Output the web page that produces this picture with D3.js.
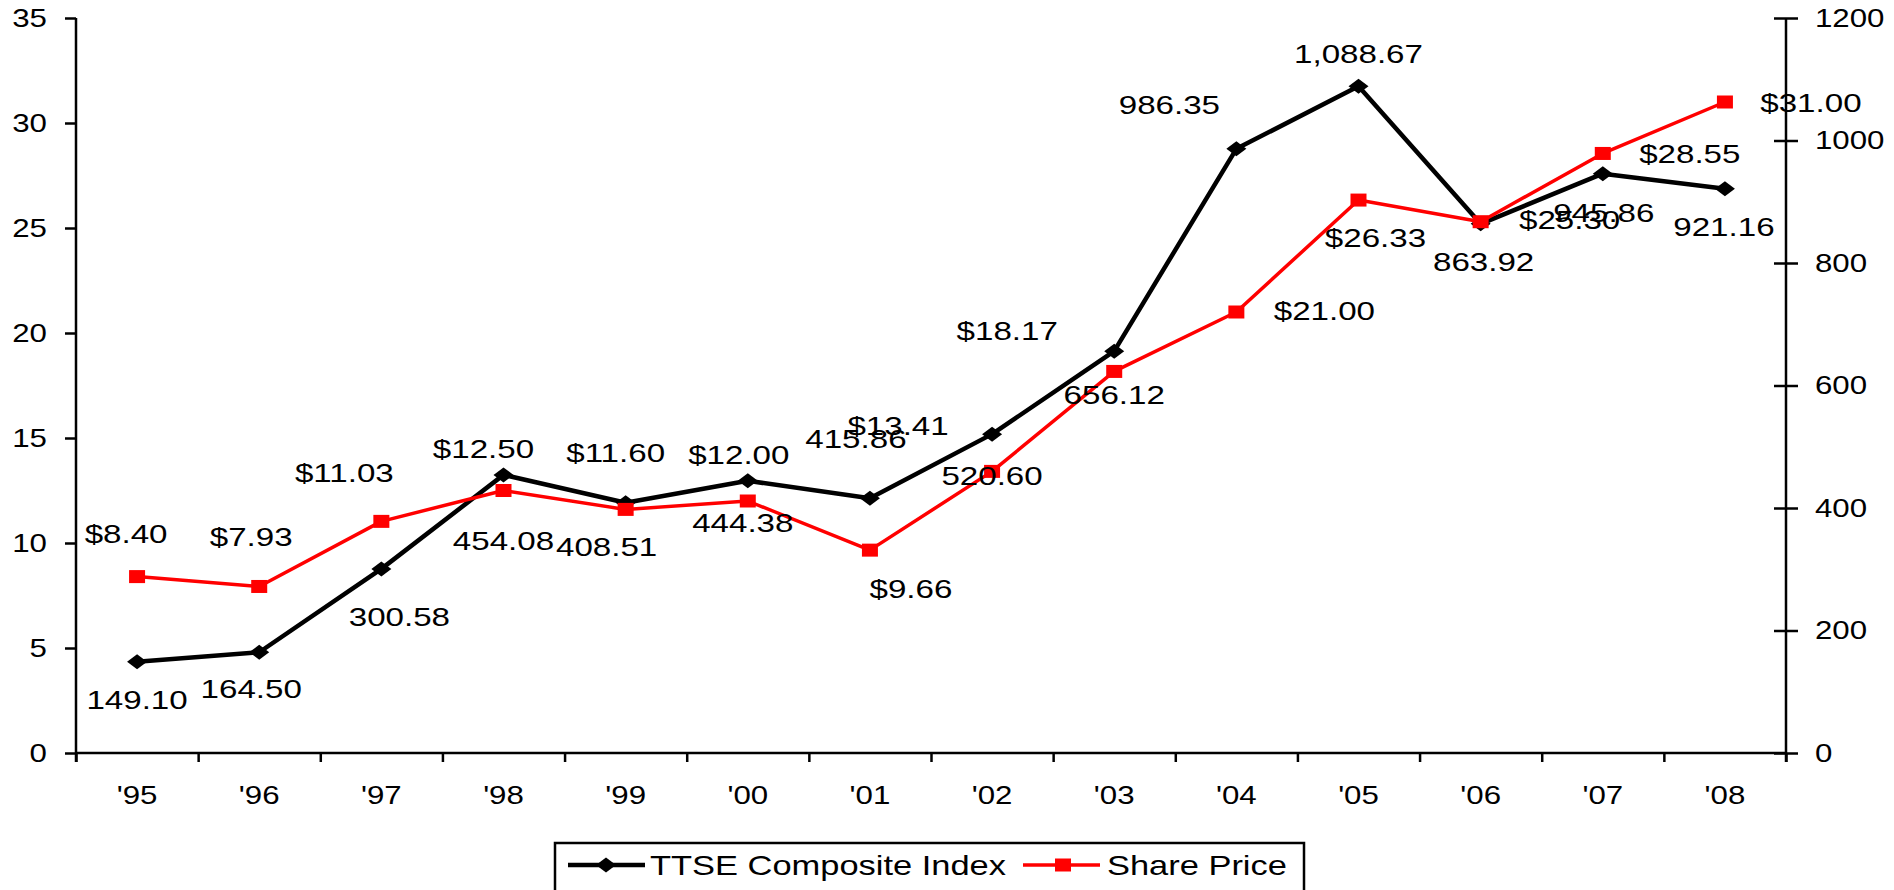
<!DOCTYPE html>
<html>
<head>
<meta charset="utf-8">
<script src="https://cdn.jsdelivr.net/npm/d3@7"></script>
<style>
html,body{margin:0;padding:0;background:#fff;}
svg{display:block;font-family:"Liberation Sans",Arial,sans-serif;}
</style>
</head>
<body>
<svg id="chart" width="1894" height="890"></svg>
<script>
const years = ["'95","'96","'97","'98","'99","'00","'01","'02","'03","'04","'05","'06","'07","'08"];
const ttseIndex = [149.10,164.50,300.58,454.08,408.51,444.38,415.86,520.60,656.12,986.35,1088.67,863.92,945.86,921.16];
const sharePrice = [8.40,7.93,11.03,12.50,11.60,12.00,9.66,13.41,18.17,21.00,26.33,25.30,28.55,31.00];
const ttseLabels = ["149.10","164.50","300.58","454.08","408.51","444.38","415.86","520.60","656.12","986.35","1,088.67","863.92","945.86","921.16"];
const priceLabels = ["$8.40","$7.93","$11.03","$12.50","$11.60","$12.00","$9.66","$13.41","$18.17","$21.00","$26.33","$25.30","$28.55","$31.00"];
const leftTicks = [0,5,10,15,20,25,30,35];
const rightTicks = [0,200,400,600,800,1000,1200];
// label offsets (px) relative to their points, as placed in the original
const ttseOff = [[0,38],[-8,36],[18,48],[0,66],[-19,44],[-5,42],[-14,-60],[0,41],[0,43],[-67,-44],[0,-33],[3,38],[1,39],[-1,38]];
const priceOff = [[-11,-43],[-8,-50],[-37,-49],[-20,-42],[-10,-57],[-9,-47],[41,38],[-94,-46],[-107,-41],[88,-2],[17,37],[89,-2],[87,0],[86,0]];

const SX = 1.25; // horizontal stretch of the original's text
const L = 76, R = 1786, T = 18, B = 753;

const svg = d3.select("#chart");

const x = d3.scaleBand().domain(years).range([L, R]).padding(0);
const xTickScale = d3.scaleLinear().domain([0, years.length]).range([L, R]);
const yL = d3.scaleLinear().domain([0, 35]).range([B, T]);
const yR = d3.scaleLinear().domain([0, 1200]).range([B, T]);
const cx = i => x(years[i]) + x.bandwidth() / 2;

function stretchText(sel, anchor) {
  sel.each(function() {
    const t = d3.select(this);
    const tx = +t.attr("x") || 0;
    const ty = +t.attr("y") || 0;
    t.attr("x", null).attr("y", null)
     .attr("text-anchor", anchor)
     .attr("transform", `translate(${tx},${ty}) scale(${SX},1)`);
  });
}

// Left axis
const gL = svg.append("g").attr("transform", `translate(${L},0)`)
  .call(d3.axisLeft(yL).tickValues(leftTicks).tickSizeInner(11).tickSizeOuter(0).tickPadding(18));
gL.select(".domain").remove();
gL.selectAll("line").attr("stroke", "#000").attr("stroke-width", 2.5);
gL.selectAll("text").attr("font-size", 25).attr("fill", "#000").attr("font-family", "Liberation Sans, Arial, sans-serif");
stretchText(gL.selectAll("text"), "end");

// Right axis
const gR = svg.append("g").attr("transform", `translate(${R},0)`)
  .call(d3.axisRight(yR).tickValues(rightTicks).tickFormat(d3.format("d")).tickSizeInner(12).tickSizeOuter(0).tickPadding(17));
gR.select(".domain").remove();
gR.selectAll("line").attr("x1", -12).attr("stroke", "#000").attr("stroke-width", 2.5);
gR.selectAll("text").attr("font-size", 25).attr("fill", "#000").attr("font-family", "Liberation Sans, Arial, sans-serif");
stretchText(gR.selectAll("text"), "start");

// X axis ticks at category boundaries
const gXT = svg.append("g").attr("transform", `translate(0,${B})`)
  .call(d3.axisBottom(xTickScale).tickValues(d3.range(0, years.length + 1)).tickFormat("").tickSizeInner(9).tickSizeOuter(0));
gXT.select(".domain").remove();
gXT.selectAll("line").attr("stroke", "#000").attr("stroke-width", 2.5);

// X axis labels
const gX = svg.append("g").attr("transform", `translate(0,${B})`)
  .call(d3.axisBottom(x).tickSize(0).tickPadding(31));
gX.select(".domain").remove();
gX.selectAll("text").attr("font-size", 25).attr("fill", "#000").attr("font-family", "Liberation Sans, Arial, sans-serif");
gX.selectAll(".tick text").each(function(){ const t=d3.select(this); t.attr("y", +t.attr("y") + 2).attr("dy", "0.71em"); });
stretchText(gX.selectAll("text"), "middle");

// Axis lines
svg.append("line").attr("x1", L).attr("x2", L).attr("y1", T).attr("y2", B + 9).attr("stroke", "#000").attr("stroke-width", 2.5);
svg.append("line").attr("x1", R).attr("x2", R).attr("y1", T).attr("y2", B + 9).attr("stroke", "#000").attr("stroke-width", 2.5);
svg.append("line").attr("x1", L).attr("x2", R).attr("y1", B).attr("y2", B).attr("stroke", "#000").attr("stroke-width", 2.5);

// Lines
const lineT = d3.line().x((d, i) => cx(i)).y(d => yR(d));
const lineP = d3.line().x((d, i) => cx(i)).y(d => yL(d));

svg.append("path").datum(ttseIndex).attr("d", lineT).attr("fill", "none").attr("stroke", "#000").attr("stroke-width", 4.5).attr("stroke-linejoin", "round");
svg.append("g").selectAll("path").data(ttseIndex).join("path")
  .attr("d", "M-10,0L0,-7.5L10,0L0,7.5Z")
  .attr("transform", (d, i) => `translate(${cx(i)},${yR(d)})`)
  .attr("fill", "#000");

svg.append("path").datum(sharePrice).attr("d", lineP).attr("fill", "none").attr("stroke", "#ff0000").attr("stroke-width", 3.5).attr("stroke-linejoin", "round");
svg.append("g").selectAll("rect").data(sharePrice).join("rect")
  .attr("x", (d, i) => cx(i) - 8).attr("y", d => yL(d) - 6.5)
  .attr("width", 16).attr("height", 13).attr("fill", "#ff0000");

// Data labels
svg.append("g").selectAll("text").data(ttseIndex).join("text")
  .attr("font-size", 26.5).attr("fill", "#000").attr("dy", "0.36em")
  .attr("transform", (d, i) => `translate(${cx(i) + ttseOff[i][0]},${yR(d) + ttseOff[i][1]}) scale(${SX},1)`)
  .attr("text-anchor", "middle")
  .text((d, i) => ttseLabels[i]);
svg.append("g").selectAll("text").data(sharePrice).join("text")
  .attr("font-size", 26.5).attr("fill", "#000").attr("dy", "0.36em")
  .attr("transform", (d, i) => `translate(${cx(i) + priceOff[i][0]},${yL(d) + priceOff[i][1]}) scale(${SX},1)`)
  .attr("text-anchor", "middle")
  .text((d, i) => priceLabels[i]);

// Legend
const lg = svg.append("g");
lg.append("rect").attr("x", 555).attr("y", 843).attr("width", 749).attr("height", 70).attr("fill", "#fff").attr("stroke", "#000").attr("stroke-width", 2.5);
lg.append("line").attr("x1", 568).attr("x2", 645).attr("y1", 865).attr("y2", 865).attr("stroke", "#000").attr("stroke-width", 4.5);
lg.append("path").attr("d", "M-10,0L0,-7.5L10,0L0,7.5Z").attr("transform", "translate(606,865)").attr("fill", "#000");
lg.append("text").attr("font-size", 28).attr("fill", "#000").attr("dy", "0.36em")
  .attr("transform", `translate(650,865) scale(1.23,1)`).text("TTSE Composite Index");
lg.append("line").attr("x1", 1023).attr("x2", 1100).attr("y1", 865).attr("y2", 865).attr("stroke", "#ff0000").attr("stroke-width", 3.5);
lg.append("rect").attr("x", 1055).attr("y", 858.5).attr("width", 16).attr("height", 13).attr("fill", "#ff0000");
lg.append("text").attr("font-size", 28).attr("fill", "#000").attr("dy", "0.36em")
  .attr("transform", `translate(1107,865) scale(1.23,1)`).text("Share Price");
</script>
</body>
</html>
